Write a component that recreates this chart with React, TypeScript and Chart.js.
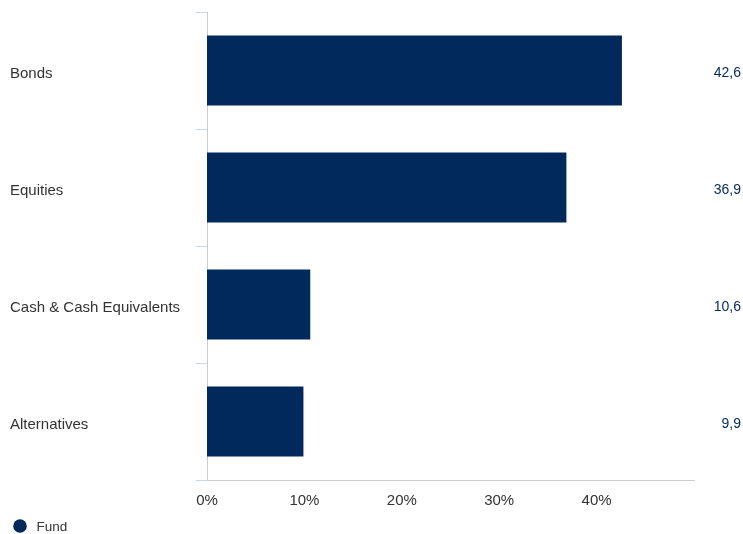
import React, { useEffect, useRef } from "react";
import { Chart, registerables } from "chart.js";

Chart.register(...registerables);

const categories = ["Bonds", "Equities", "Cash & Cash Equivalents", "Alternatives"];
const fundValues = [42.6, 36.9, 10.6, 9.9];
const valueLabels = ["42,6", "36,9", "10,6", "9,9"];
const seriesName = "Fund";
const xMax = 50;
const xStep = 10;

const NAVY = "#01295c";
const FONT = "'Liberation Sans', Arial, sans-serif";

const extrasPlugin = {
  id: "extras",
  afterDatasetsDraw(chart: any) {
    const { ctx } = chart;
    const meta = chart.getDatasetMeta(0);
    ctx.save();
    ctx.font = `14px ${FONT}`;
    ctx.fillStyle = NAVY;
    ctx.textAlign = "right";
    ctx.textBaseline = "middle";
    meta.data.forEach((bar: any, i: number) => {
      ctx.fillText(valueLabels[i], chart.width - 2, bar.y + 3);
    });
    // legend
    ctx.beginPath();
    ctx.arc(20, 526, 6.8, 0, Math.PI * 2);
    ctx.fillStyle = NAVY;
    ctx.fill();
    ctx.fillStyle = "#333333";
    ctx.textAlign = "left";
    ctx.font = `13.5px ${FONT}`;
    ctx.fillText(seriesName, 36.5, 527.5);
    ctx.restore();
  },
};

export default function App() {
  const ref = useRef<HTMLCanvasElement | null>(null);
  useEffect(() => {
    if (!ref.current) return;
    const chart = new Chart(ref.current, {
      type: "bar",
      data: {
        labels: categories,
        datasets: [
          {
            label: seriesName,
            data: fundValues,
            backgroundColor: NAVY,
            borderWidth: 0,
            barPercentage: 0.6,
            categoryPercentage: 1,
          },
        ],
      },
      options: {
        indexAxis: "y",
        animation: false,
        responsive: true,
        maintainAspectRatio: false,
        layout: { padding: { left: 10, right: 49, top: 12, bottom: 0 } },
        plugins: {
          legend: { display: false },
          tooltip: { enabled: false },
        },
        scales: {
          y: {
            ticks: {
              crossAlign: "far",
              labelOffset: 3,
              color: "#333333",
              font: { family: FONT, size: 15 },
            },
            grid: {
              drawOnChartArea: false,
              drawTicks: true,
              tickLength: 11,
              tickColor: "#ccd6eb",
              color: "#ccd6eb",
            },
            border: { display: true, color: "#cccccc", width: 1 },
            afterFit: (scale: any) => {
              scale.width = 197;
            },
          },
          x: {
            min: 0,
            max: xMax,
            ticks: {
              stepSize: xStep,
              color: "#333333",
              font: { family: FONT, size: 15 },
              padding: 11.5,
              callback: (v: any) => (Number(v) >= xMax ? "" : `${v}%`),
            },
            grid: { display: false, drawTicks: false },
            border: { display: true, color: "#cccccc", width: 1 },
            afterFit: (scale: any) => {
              scale.height = 54;
            },
          },
        },
      },
      plugins: [extrasPlugin],
    });
    return () => chart.destroy();
  }, []);
  return (
    <div style={{ position: "absolute", left: 0, top: 0, width: 743, height: 534 }}>
      <canvas ref={ref} />
    </div>
  );
}
